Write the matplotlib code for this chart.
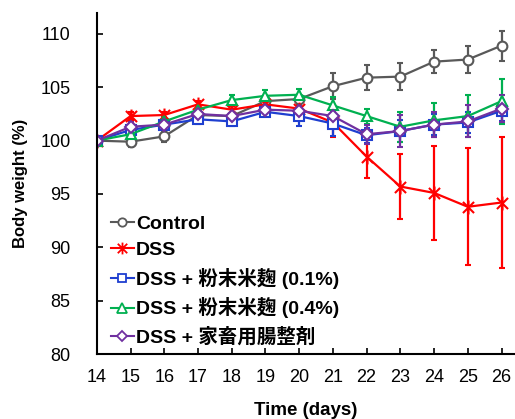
import matplotlib
matplotlib.use("Agg")
import matplotlib.pyplot as plt
from matplotlib.path import Path
import numpy as np

plt.rcParams['font.family'] = ['Liberation Sans', 'Noto Sans CJK JP', 'DejaVu Sans']

days = list(range(14, 27))
labels = ["Control", "DSS", "DSS + 粉末米麹 (0.1%)", "DSS + 粉末米麹 (0.4%)", "DSS + 家畜用腸整剤"]

control = [100.0, 99.9, 100.4, 102.4, 102.3, 103.7, 103.9, 105.1, 105.9, 106.0, 107.4, 107.6, 108.9]
control_err = [0, 0.5, 0.5, 0.3, 0.3, 0.3, 0.4, 1.2, 1.15, 1.3, 1.1, 1.3, 1.4]

dss = [100.0, 102.3, 102.4, 103.4, 102.9, 103.4, 103.0, 101.7, 98.5, 95.7, 95.1, 93.8, 94.2]
dss_err = [0, 0.4, 0.3, 0.3, 0.3, 0.3, 0.4, 1.4, 2.0, 3.0, 4.4, 5.5, 6.1]

koji01 = [100.0, 101.0, 101.5, 102.0, 101.8, 102.7, 102.3, 101.6, 100.5, 100.9, 101.5, 101.7, 102.8]
koji01_err = [0, 0.3, 0.3, 0.4, 0.4, 0.4, 0.9, 1.2, 0.7, 1.0, 1.0, 1.0, 1.0]

koji04 = [100.0, 100.6, 101.8, 102.9, 103.8, 104.2, 104.3, 103.3, 102.3, 101.3, 101.9, 102.3, 103.7]
koji04_err = [0, 0.3, 0.4, 0.3, 0.5, 0.5, 0.5, 0.8, 0.7, 1.4, 1.6, 2.0, 2.1]

probiotic = [100.0, 101.3, 101.5, 102.5, 102.3, 102.9, 102.8, 102.3, 100.6, 100.9, 101.5, 101.8, 103.0]
probiotic_err = [0, 0.4, 0.3, 0.4, 0.3, 0.4, 0.4, 0.5, 0.9, 1.5, 1.2, 1.5, 1.25]

colors = ["#595959", "#ff0000", "#1f3fd0", "#00b050", "#7030a0"]

star = Path([(-1, -1), (1, 1), (-1, 1), (1, -1), (0, -1.25), (0, 1.25)],
            [Path.MOVETO, Path.LINETO, Path.MOVETO, Path.LINETO, Path.MOVETO, Path.LINETO])

series = [control, dss, koji01, koji04, probiotic]
errors = [control_err, dss_err, koji01_err, koji04_err, probiotic_err]
markers = ["o", star, "s", "^", "D"]
msizes = [7, 10, 7, 7.5, 6]
leg_msizes = [6, 8.5, 6, 6.5, 5.5]

fig = plt.figure(figsize=(5.15, 4.19), dpi=100)
ax = fig.add_axes([0.188, 0.155, 0.812, 0.815])

for y, e, c, m, ms, lab in zip(series, errors, colors, markers, msizes, labels):
    ax.errorbar(days, y, yerr=e, color=c, lw=1.6, elinewidth=1.6, capsize=2.5, capthick=1.6,
                marker=m, ms=ms, mfc="white", mec=c, mew=1.5, label=lab)

ax.set_xlim(14, 26.4)
ax.set_ylim(80, 112)
ax.set_xticks(days)
ax.set_yticks([80, 85, 90, 95, 100, 105, 110])
ax.tick_params(direction="in", length=4, width=1.2, labelsize=13)
ax.tick_params(axis="y", pad=19)
ax.tick_params(axis="x", pad=11)
ax.spines["top"].set_visible(False)
ax.spines["right"].set_visible(False)
ax.spines["left"].set_linewidth(1.5)
ax.spines["bottom"].set_linewidth(1.5)

ax.set_xlabel("Time (days)", fontsize=13.5, fontweight="bold", labelpad=11)
ax.set_ylabel("Body weight (%)", fontsize=12, fontweight="bold", labelpad=9)

handles, labs = ax.get_legend_handles_labels()
handles = [h[0] for h in handles]
leg = fig.legend(handles, labs, loc="upper left", bbox_to_anchor=(111 / 515, 1 - 215 / 419),
                 bbox_transform=fig.transFigure, frameon=False, borderpad=0, borderaxespad=0,
                 handlelength=1.17, handletextpad=0.12, labelspacing=0.45,
                 prop={"size": 14, "weight": "bold"})
for h, ms in zip(leg.legend_handles, leg_msizes):
    h.set_markersize(ms)
    h.set_linewidth(1.5)
    h.set_markeredgewidth(1.3)

fig.savefig("out.png", dpi=100)
